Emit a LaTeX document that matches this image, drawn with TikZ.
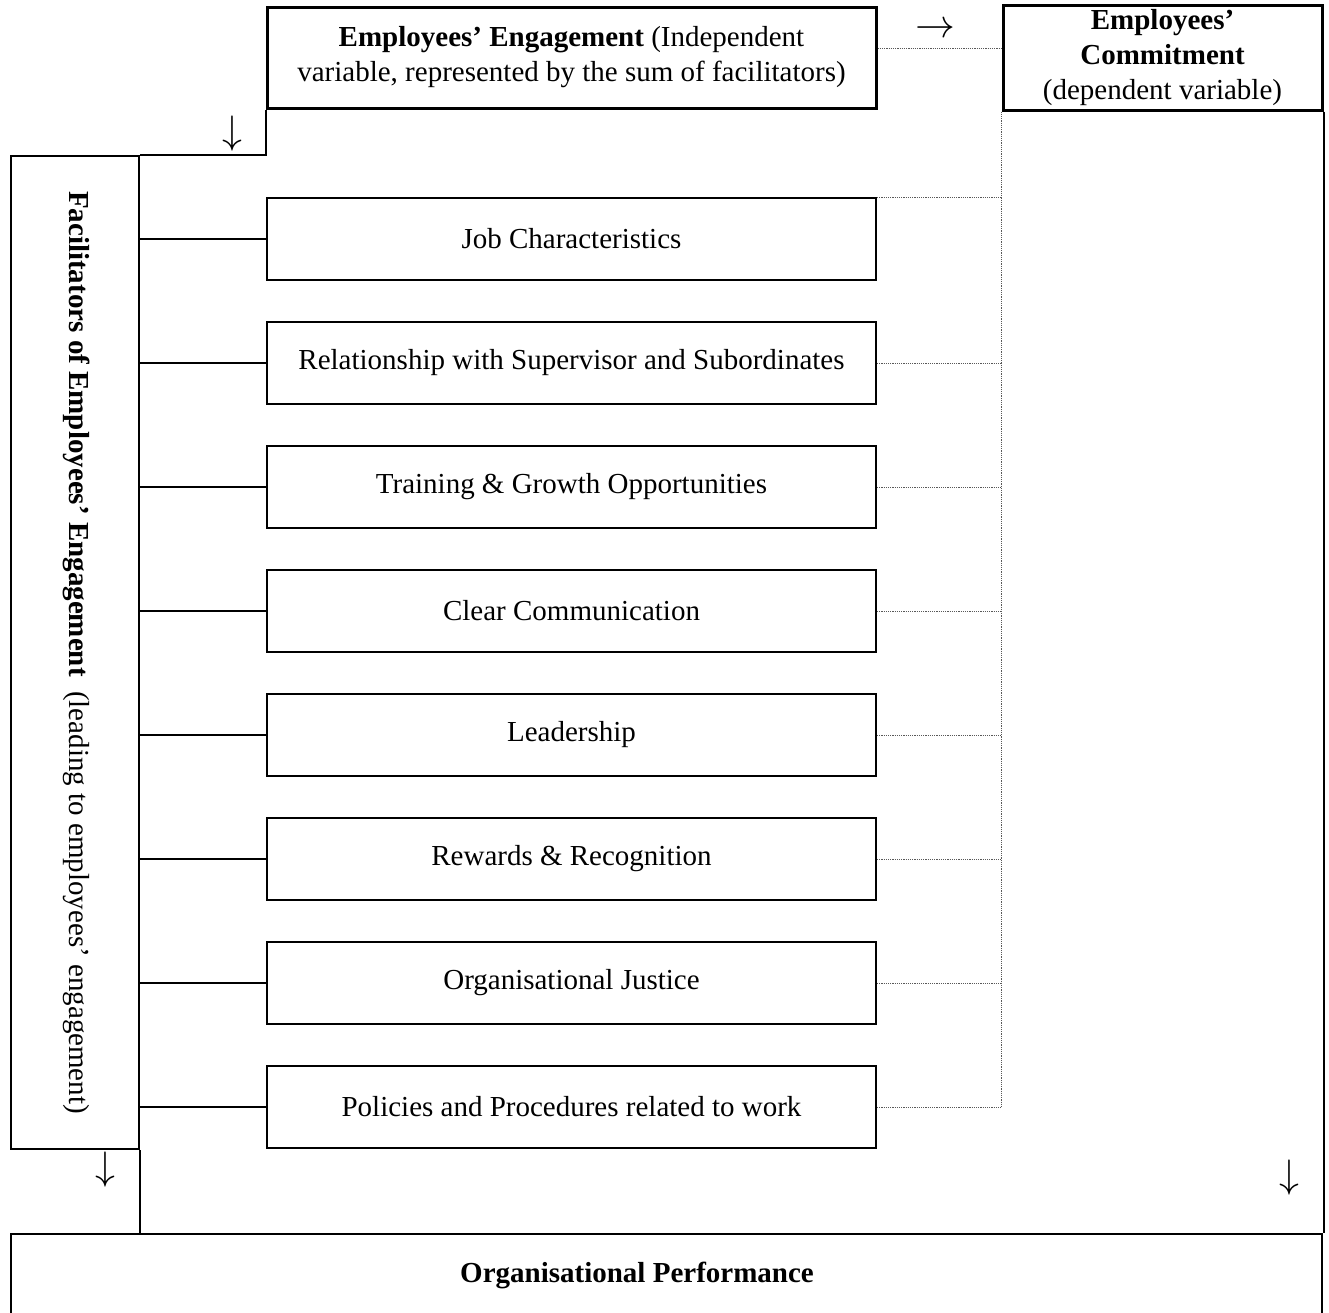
\documentclass[tikz,border=0pt]{standalone}
\usepackage{graphicx}
\usepackage{fontspec}
\setmainfont{Liberation Serif}
\usetikzlibrary{positioning}
\newcommand{\bigsign}[1]{\scalebox{1.6}{$#1$}}
\tikzset{
  headbox/.style={draw, line width=3pt, align=center, inner sep=0pt},
  factorbox/.style={draw, line width=2pt, minimum width=609pt, minimum height=82pt, inner sep=0pt},
  framebox/.style={draw, line width=2pt, inner sep=0pt},
  solidlink/.style={line width=2pt},
  dotlink/.style={black!65, line width=1pt, dash pattern=on 1.2pt off 1pt},
  sign/.style={inner sep=0pt}
}
\begin{document}
\begin{tikzpicture}[x=1pt, y=-1pt, font=\fontsize{29}{35}\selectfont]
  \useasboundingbox (0,0) rectangle (1329,1312);

  % Independent and dependent variable
  \node[headbox, minimum width=609pt, minimum height=101pt] (engage) at (571.5,57.5)
    {\textbf{Employees’ Engagement} (Independent\\variable, represented by the sum of facilitators)};
  \node[headbox, minimum width=319pt, minimum height=105pt] (commit) at (1162.5,57.5)
    {\textbf{Employees’}\\\textbf{Commitment}\\(dependent variable)};

  % Facilitators column
  \node[framebox, minimum width=128pt, minimum height=993pt] (facil) at (75,652.5) {};
  \node[rotate=-90] (faciltext) at ([xshift=2pt]facil.center)
    {\textbf{Facilitators of Employees’ Engagement}\ \ (leading to employees’ engagement)};

  % Organisational performance
  \node[framebox, minimum width=1311pt, minimum height=82pt] (perf) at (666.5,1275) {};
  \node (perftext) at ([xshift=-29.5pt]perf.center) {\textbf{Organisational Performance}};

  % The eight facilitators
  \foreach \name/\txt [count=\i] in {job/Job Characteristics,
      rel/Relationship with Supervisor and Subordinates,
      train/Training \& Growth Opportunities,
      comm/Clear Communication,
      lead/Leadership,
      reward/Rewards \& Recognition,
      justice/Organisational Justice,
      pol/Policies and Procedures related to work} {
    \node[factorbox] (\name) at (571.5,{239+124*(\i-1)}) {\txt};
    \draw[solidlink] (facil.east |- \name.west) -- (\name.west);
  }
  \foreach \name in {rel,train,comm,lead,reward,justice,pol}
    \draw[dotlink] (\name.east) -- (\name.east -| commit.west);

  % Dotted links to commitment
  \draw[dotlink] ([yshift=9.5pt]engage.east) -- ([yshift=9.5pt]engage.east -| commit.west);
  \draw[dotlink] (job.north east) -- (job.north east -| commit.west);
  \draw[dotlink] (commit.south west) -- (commit.south west |- pol.east);

  % Solid frame lines
  \draw[solidlink] (engage.south west) -- (engage.south west |- facil.north) -- (facil.north east);
  \draw[solidlink] (facil.south east) -- (facil.south east |- perf.north);
  \draw[solidlink] (commit.south east) -- (commit.south east |- perf.north);

  % Arrow signs
  \node[sign] (toright) at (935,30) {\bigsign{\rightarrow}};
  \node[sign] (downA) at (232,134) {\bigsign{\downarrow}};
  \node[sign] (downB) at (105,1170) {\bigsign{\downarrow}};
  \node[sign] (downC) at (1289,1178) {\bigsign{\downarrow}};
\end{tikzpicture}
\end{document}
